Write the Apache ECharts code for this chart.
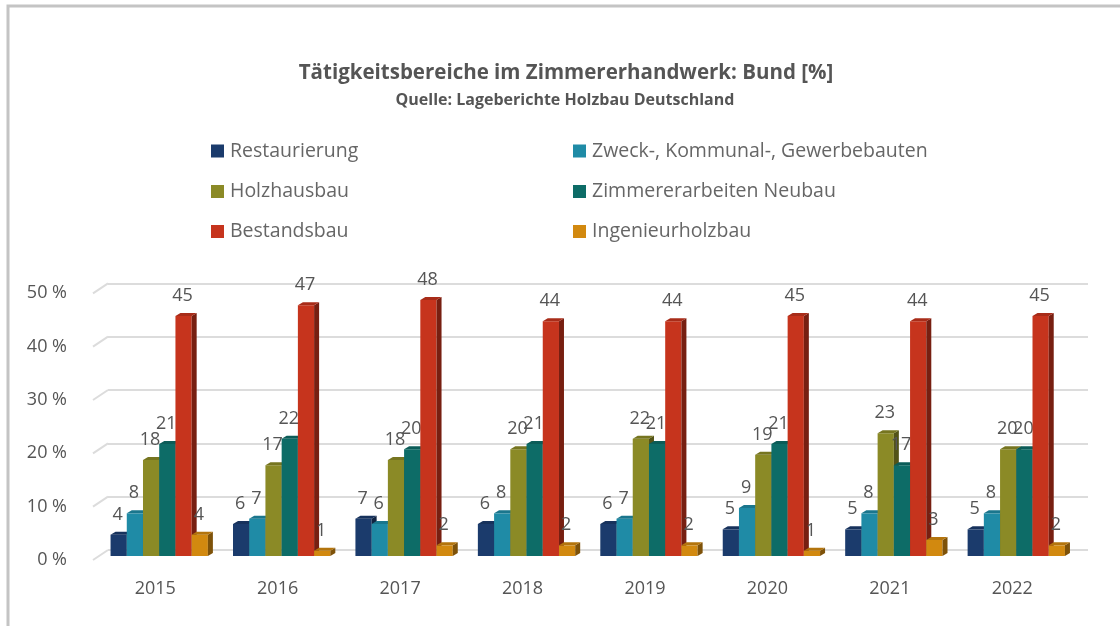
<!DOCTYPE html>
<html>
<head>
<meta charset="utf-8">
<script src="https://cdn.jsdelivr.net/npm/echarts@6/dist/echarts.min.js"></script>
<style>
  html, body { margin: 0; padding: 0; background: #fff; }
  #chart { width: 1120px; height: 626px; }
</style>
</head>
<body>
<div id="chart"></div>
<script>
const years = ['2015', '2016', '2017', '2018', '2019', '2020', '2021', '2022']
const restaurierung = [4, 6, 7, 6, 6, 5, 5, 5]
const zweckbauten = [8, 7, 6, 8, 7, 9, 8, 8]
const holzhausbau = [18, 17, 18, 20, 22, 19, 23, 20]
const neubau = [21, 22, 20, 21, 21, 21, 17, 20]
const bestandsbau = [45, 47, 48, 44, 44, 45, 44, 45]
const ingenieurholzbau = [4, 1, 2, 2, 2, 1, 3, 2]
const yTicks = [0, 10, 20, 30, 40, 50]

const seriesNames = ['Restaurierung', 'Zweck-, Kommunal-, Gewerbebauten', 'Holzhausbau',
    'Zimmererarbeiten Neubau', 'Bestandsbau', 'Ingenieurholzbau']
const seriesData = [restaurierung, zweckbauten, holzhausbau, neubau, bestandsbau, ingenieurholzbau]
const colorList = ['#1b3b6c', '#1f8ba6', '#8b8a26', '#0d6c67', '#c6341d', '#d2890f']

// darken a hex colour by factor
function shade (hex, f) {
    const n = parseInt(hex.slice(1), 16)
    const r = Math.round(((n >> 16) & 255) * f)
    const g = Math.round(((n >> 8) & 255) * f)
    const b = Math.round((n & 255) * f)
    return 'rgb(' + r + ',' + g + ',' + b + ')'
}

function bar3d (idx, color) {
    const sideColor = shade(color, 0.6)
    const topColor = shade(color, 0.85)
    return function (params, api) {
        const base = api.coord([api.value(0), 0])
        const tip = api.coord([api.value(0), api.value(1)])
        const band = api.size([1, 0])[0]
        const bw = band * 0.1325
        const x = base[0] - 3 * bw + idx * bw + 4
        const dx = 5
        const dy = 3
        return {
            type: 'group',
            children: [
                { type: 'rect', shape: { x: x, y: tip[1], width: bw, height: base[1] - tip[1] }, style: { fill: color } },
                { type: 'polygon', shape: { points: [[x + bw, tip[1]], [x + bw + dx, tip[1] - dy], [x + bw + dx, base[1] - dy], [x + bw, base[1]]] }, style: { fill: sideColor } },
                { type: 'polygon', shape: { points: [[x, tip[1]], [x + dx, tip[1] - dy], [x + bw + dx, tip[1] - dy], [x + bw, tip[1]]] }, style: { fill: topColor } },
                { type: 'text', style: { text: String(api.value(1)), x: x + bw / 2 - 1, y: tip[1] - 20, align: 'center', verticalAlign: 'middle', fill: '#555', fontSize: 18, fontFamily: 'Open Sans' } }
            ]
        }
    }
}

const legendPos = [[211, 141], [573, 141], [211, 181.5], [573, 181.5], [211, 221.5], [573, 221.5]]

const series = seriesNames.map(function (name, i) {
    return {
        name: name,
        type: 'custom',
        xAxisIndex: 0,
        yAxisIndex: 0,
        itemStyle: { color: colorList[i] },
        renderItem: bar3d(i, colorList[i]),
        encode: { x: 0, y: 1 },
        data: seriesData[i].map(function (v, k) { return [k, v] }),
        z: 3
    }
})

// diagonal floor/wall edges at each tick on the back wall
series.push({
    name: 'edges',
    type: 'custom',
    xAxisIndex: 2,
    yAxisIndex: 2,
    silent: true,
    renderItem: function (params, api) {
        const p = api.coord([0, api.value(0)])
        return { type: 'line', shape: { x1: p[0], y1: p[1], x2: p[0] - 15, y2: p[1] + 10 }, style: { stroke: '#dcdcdc', lineWidth: 2 } }
    },
    data: yTicks.map(function (v) { return [v] }),
    encode: { y: 0 },
    z: 1
})

const chart = echarts.init(document.getElementById('chart'))
chart.setOption({
    color: colorList,
    animation: false,
    title: [
        {
            text: 'Tätigkeitsbereiche im Zimmererhandwerk: Bund [%]',
            left: 566,
            top: 63,
            padding: 0,
            textAlign: 'center',
            textStyle: { fontFamily: 'Open Sans', fontSize: 20.5, fontWeight: 'bold', color: '#555' }
        },
        {
            text: 'Quelle: Lageberichte Holzbau Deutschland',
            left: 565,
            top: 92,
            padding: 0,
            textAlign: 'center',
            textStyle: { fontFamily: 'Open Sans', fontSize: 16, fontWeight: 'bold', color: '#555' }
        }
    ],
    legend: seriesNames.map(function (name, i) {
        return {
            data: [name],
            left: legendPos[i][0],
            top: legendPos[i][1],
            padding: 0,
            icon: 'rect',
            itemWidth: 13,
            itemHeight: 13,
            itemGap: 0,
            selectedMode: false,
            textStyle: { fontFamily: 'Open Sans', fontSize: 19.5, color: '#666', padding: [0, 0, 0, 1] }
        }
    }),
    graphic: [
        { type: 'rect', shape: { x: 8, y: 6, width: 1200, height: 700 }, style: { fill: 'none', stroke: '#c4c4c4', lineWidth: 3 }, silent: true }
    ],
    grid: [
        { left: 94, right: 46.5, top: 289.3, bottom: 70 },
        { left: 94, right: 46.5, top: 293.3, bottom: 66 },
        { left: 108, right: 32, top: 283.3, bottom: 76 }
    ],
    xAxis: [
        {
            type: 'category',
            gridIndex: 0,
            data: years,
            axisLine: { show: false },
            axisTick: { show: false },
            axisLabel: { margin: 24, fontFamily: 'Open Sans', fontSize: 18, color: '#555' }
        },
        { type: 'value', gridIndex: 1, show: false, min: 0, max: 1 },
        { type: 'value', gridIndex: 2, show: false, min: 0, max: 1 }
    ],
    yAxis: [
        { type: 'value', gridIndex: 0, min: 0, max: 50, interval: 10, show: false },
        {
            type: 'value',
            gridIndex: 1,
            min: 0,
            max: 50,
            interval: 10,
            axisLine: { show: false },
            axisTick: { show: false },
            splitLine: { show: false },
            axisLabel: { margin: 27, formatter: '{value} %', fontFamily: 'Open Sans', fontSize: 18, color: '#555' }
        },
        {
            type: 'value',
            gridIndex: 2,
            min: 0,
            max: 50,
            interval: 10,
            axisLine: { show: false },
            axisTick: { show: false },
            axisLabel: { show: false },
            splitLine: { show: true, lineStyle: { color: '#dcdcdc', width: 2 } }
        }
    ],
    series: series
})
</script>
</body>
</html>
